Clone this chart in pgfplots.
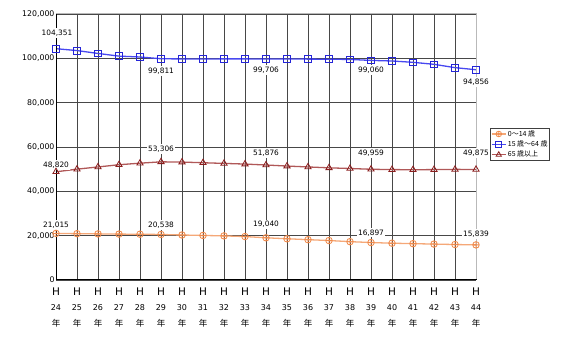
\documentclass[border=0pt]{standalone}
\usepackage{pgfplots}
\pgfplotsset{compat=1.18}
\usepackage{fontspec}
\setmainfont{Noto Sans CJK JP}
\newfontfamily\dv{DejaVu Sans}
\definecolor{cOr}{HTML}{F08A4B}
\definecolor{cOrL}{HTML}{F5A878}
\definecolor{cBl}{HTML}{2525D8}
\definecolor{cBlL}{HTML}{4848F0}
\definecolor{cRd}{HTML}{8B1E1E}
\definecolor{cRdL}{HTML}{B05858}
\newcommand{\xl}[1]{{\dv\fontsize{10.5}{16}\selectfont H}\\{\dv #1}\\{\fontsize{8.5}{16}\selectfont 年}}
\begin{document}
\begin{tikzpicture}
\path[use as bounding box] (0pt,0pt) rectangle (573pt,353pt);
\begin{axis}[
  at={(56pt,73pt)}, anchor=south west,
  scale only axis, width=420pt, height=266pt,
  xmin=0, xmax=20, ymin=0, ymax=120000,
  xtick={0,...,20},
  xticklabels={\xl{24},\xl{25},\xl{26},\xl{27},\xl{28},\xl{29},\xl{30},\xl{31},\xl{32},\xl{33},\xl{34},\xl{35},\xl{36},\xl{37},\xl{38},\xl{39},\xl{40},\xl{41},\xl{42},\xl{43},\xl{44}},
  xticklabel style={align=center, yshift=-4pt, font=\fontsize{8}{15.8}\selectfont},
  ytick={0,20000,40000,60000,80000,100000,120000},
  yticklabels={0,{20,000},{40,000},{60,000},{80,000},{100,000},{120,000}},
  scaled y ticks=false,
  yticklabel style={font=\dv\fontsize{7.8}{9}\selectfont, xshift=2pt},
  major tick length=0pt,
  grid=major,
  major grid style={black!72, line width=0.95pt},
  axis line style={black, line width=1pt},
  legend style={at={(rel axis cs:1.033,0.571)}, anchor=north west,
    font=\fontsize{7}{8}\selectfont, draw=black!75, line width=1pt,
    inner sep=0.5pt, row sep=0.6pt, nodes={inner sep=1.2pt}},
  legend cell align=left,
  legend image post style={scale=0.85},
  clip=false,
]
\addplot[cOrL, line width=1.3pt, mark=oplus, mark size=3.3pt, mark options={draw=cOr, line width=0.8pt}] coordinates {
(0,21015)(1,20900)(2,20800)(3,20700)(4,20650)(5,20538)(6,20300)(7,20100)(8,19900)(9,19600)(10,19040)(11,18600)(12,18200)(13,17800)(14,17300)(15,16897)(16,16600)(17,16400)(18,16200)(19,16000)(20,15839)};
\addlegendentry{0～14 歳}
\addplot[cBlL, line width=1.3pt, mark=square, mark size=3.4pt, mark options={draw=cBl, line width=0.8pt}] coordinates {
(0,104351)(1,103500)(2,102200)(3,101000)(4,100600)(5,99811)(6,99720)(7,99720)(8,99750)(9,99750)(10,99706)(11,99700)(12,99650)(13,99600)(14,99500)(15,99060)(16,98800)(17,98200)(18,97300)(19,95800)(20,94856)};
\addlegendentry{15 歳～64 歳}
\addplot[cRdL, line width=1.3pt, mark=triangle, mark size=3.6pt, mark options={draw=cRd, line width=0.8pt}] coordinates {
(0,48820)(1,50000)(2,51000)(3,52000)(4,52700)(5,53306)(6,53200)(7,52900)(8,52600)(9,52300)(10,51876)(11,51400)(12,51000)(13,50600)(14,50300)(15,49959)(16,49800)(17,49750)(18,49800)(19,49900)(20,49875)};
\addlegendentry{65 歳以上}
\draw[gray!55, line width=1pt] (rel axis cs:0,1) -- (rel axis cs:1,1) -- (rel axis cs:1,0.005);
\draw[black, line width=1pt] (rel axis cs:0,1) -- (rel axis cs:0,0) -- (rel axis cs:1,0);
\tikzset{lab/.style={fill=white, inner sep=1.5pt, font=\dv\fontsize{7.4}{8}\selectfont}}
\node[lab] at (axis cs:0.05,111430) {104,351};
\node[lab] at (axis cs:5,94286) {99,811};
\node[lab] at (axis cs:10,94737) {99,706};
\node[lab] at (axis cs:15,94737) {99,060};
\node[lab] at (axis cs:20,89323) {94,856};
\node[lab] at (axis cs:0,51880) {48,820};
\node[lab] at (axis cs:5,59098) {53,306};
\node[lab] at (axis cs:10,57293) {51,876};
\node[lab] at (axis cs:15,57293) {49,959};
\node[lab] at (axis cs:20,57293) {49,875};
\node[lab] at (axis cs:0,24812) {21,015};
\node[lab] at (axis cs:5,24812) {20,538};
\node[lab] at (axis cs:10,25000) {19,040};
\node[lab] at (axis cs:15,21338) {16,897};
\node[lab] at (axis cs:20,20752) {15,839};
\end{axis}
\end{tikzpicture}
\end{document}
